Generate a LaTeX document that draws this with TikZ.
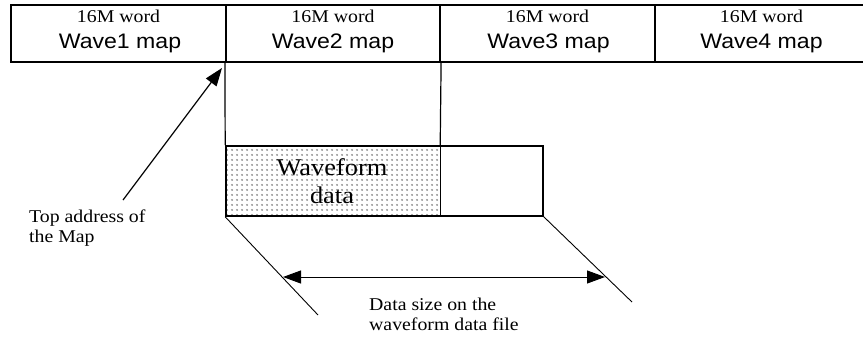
\documentclass[tikz,border=0pt]{standalone}
\usepackage{fontspec}
\setmainfont{Liberation Serif}[FakeStretch=1.1]
\newfontfamily\arialfont{Liberation Sans}[FakeStretch=1.1]
\usetikzlibrary{arrows.meta,patterns.meta}
\tikzdeclarepattern{name=mapdots, type=uncolored,
  bounding box={(0pt,0pt) and (4.5pt,4.5pt)}, tile size={(4.5pt,4.5pt)},
  code={\pgfpathcircle{\pgfpoint{2.25pt}{2.25pt}}{1.15pt}\pgfusepath{fill}}}
\begin{document}
\begin{tikzpicture}[x=1pt,y=-1pt,
  >={Triangle[length=18pt,width=13pt]},
  cell/.style={draw, line width=1.2pt, minimum width=215pt, minimum height=57pt, inner sep=0pt},
  small/.style={inner sep=0pt, anchor=base, font=\fontsize{18}{20}\selectfont},
  big/.style={inner sep=0pt, anchor=base, font=\arialfont\fontsize{21}{24}\selectfont},
  lbl/.style={inner sep=0pt, anchor=base west, align=left, font=\fontsize{18}{20}\selectfont},
  thin/.style={line width=0.9pt},
  dblarrow/.style={<->, line width=1pt},
  tip/.style={->, line width=1.2pt}
]
\useasboundingbox (0,0) rectangle (863,338);
% map row
\node[cell] (c1) at (118.5,33.5) {};
\node[cell] (c2) at (333,33.5) {};
\node[cell] (c3) at (547.5,33.5) {};
\node[cell] (c4) at (762,33.5) {};
\node[small] (t1) at (118.5,22) {16M word};
\node[small] (t2) at (333,22) {16M word};
\node[small] (t3) at (547.5,22) {16M word};
\node[small] (t4) at (761.5,22) {16M word};
\node[big] (m1) at (120,48) {Wave1 map};
\node[big] (m2) at (333,48) {Wave2 map};
\node[big] (m3) at (548.5,48) {Wave3 map};
\node[big] (m4) at (761.5,48) {Wave4 map};
% waveform box
\node[inner sep=0pt, minimum width=214pt, minimum height=70pt, pattern={mapdots}, pattern color=gray!90] (wdata) at (333,181) {};
\node[draw, line width=1.6pt, minimum width=317pt, minimum height=70pt, inner sep=0pt] (wbox) at (384.5,181) {};
\draw[line width=1.2pt] (wdata.north east) -- (wdata.south east);
\draw[line width=1.2pt] (c2.south west) -- (wbox.north west);
\draw[line width=1.2pt] (c2.south east) -- (wdata.north east);
\node[inner sep=0pt, align=center, font=\fontsize{24}{28}\selectfont] (wtext) at (332,181) {Waveform\\data};
% size lines and arrow
\coordinate (dl) at (318,315);
\coordinate (dr) at (632,302);
\draw[thin] (wbox.south west) -- (dl);
\draw[thin] (wbox.south east) -- (dr);
\coordinate (al) at (283,277);
\coordinate (ar) at (605,277);
\draw[dblarrow] (al) -- (ar);
\node[lbl] (size) at (369,330) {Data size on the\\waveform data file};
% top address
\node[lbl] (top) at (29,242) {Top address of\\the Map};
\coordinate (ts) at (123,200);
\coordinate (tt) at (222,68);
\draw[tip] (ts) -- (tt);
\end{tikzpicture}
\end{document}
